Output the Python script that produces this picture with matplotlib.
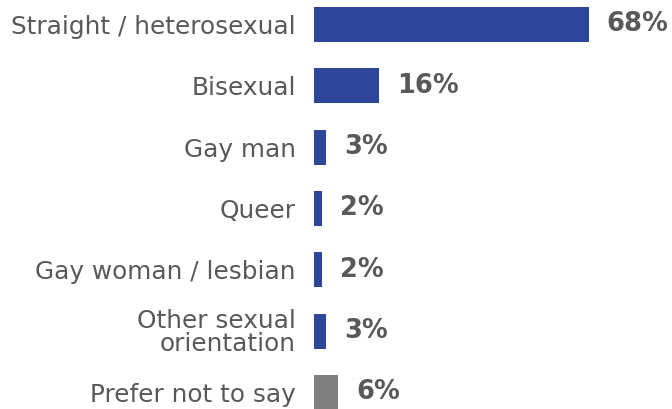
import matplotlib
matplotlib.use("Agg")
import matplotlib.pyplot as plt

categories = ["Straight / heterosexual", "Bisexual", "Gay man", "Queer",
              "Gay woman / lesbian", "Other sexual\norientation", "Prefer not to say"]
values = [68, 16, 3, 2, 2, 3, 6]
value_labels = ["68%", "16%", "3%", "2%", "2%", "3%", "6%"]
colors = ["#2E4699"] * 6 + ["#7F7F7F"]

W, H = 672, 409
fig = plt.figure(figsize=(W / 100, H / 100), dpi=100)
x0 = 314
ax = fig.add_axes([x0 / W, 0, (W - x0) / W, 1])
px_per_unit = 4.04
ax.set_xlim(0, (W - x0) / px_per_unit)
row = 61.3
top = 24.5
ax.set_ylim((H - top) / row, -top / row)

ypos = list(range(len(categories)))
ax.barh(ypos, values, height=35 / row, color=colors)

for y, v, lab in zip(ypos, values, value_labels):
    ax.annotate(lab, (v, y), xytext=(13, 0), textcoords="offset points",
                va="center", ha="left", fontsize=18.5, fontweight="bold",
                color="#595959")

ax.set_yticks(ypos)
ax.set_yticklabels(categories, fontsize=17.8, color="#595959", linespacing=0.9)
ax.tick_params(axis="y", length=0, pad=13)
ax.set_xticks([])
for s in ax.spines.values():
    s.set_visible(False)

fig.savefig("out.png", dpi=100)
